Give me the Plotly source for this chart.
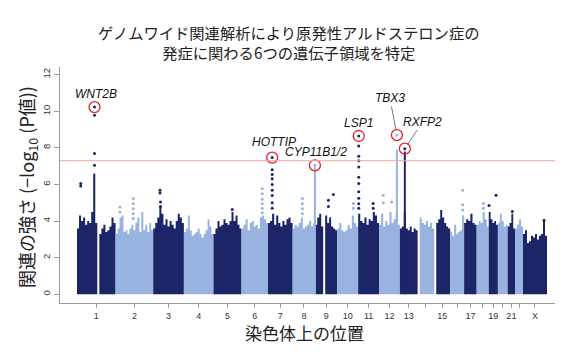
import plotly.graph_objects as go

# ---------------- data ----------------
chrom_names = ["1", "2", "3", "4", "5", "6", "7", "8", "9", "10", "11", "12",
               "13", "14", "15", "16", "17", "18", "19", "20", "21", "22", "X"]
chrom_len = [249, 243, 198, 191, 181, 171, 159, 146, 141, 136, 135, 134,
             115, 107, 103, 90, 81, 78, 59, 63, 48, 51, 155]
labelled_chroms = ["1", "2", "3", "4", "5", "6", "7", "8", "9", "10", "11", "12",
                   "13", "15", "17", "19", "21", "X"]

# upper envelope of the dense SNP cloud (-log10 P), evenly spaced along each chromosome
envelope = [
    [3.6, 4.3, 4.0, 4.2, 3.8, 4.0, 3.9, 4.5, 6.6, 3.9, 0, 3.3, 3.6, 3.8, 3.4, 3.5, 3.7, 4.2, 3.9],
    [3.3, 3.6, 4.2, 4.3, 3.4, 3.5, 3.3, 3.6, 3.8, 3.5, 3.9, 4.2, 3.4, 4.5, 3.5, 3.8, 3.4, 3.9, 3.5],
    [3.6, 3.9, 4.2, 4.8, 4.4, 3.8, 4.1, 3.7, 4.0, 3.8, 3.6, 4.0, 4.4, 4.2, 3.9],
    [3.4, 3.6, 4.3, 3.5, 3.2, 3.3, 3.4, 3.6, 3.3, 3.1, 3.3, 3.5, 4.1, 3.7, 3.3],
    [3.3, 3.6, 4.0, 3.7, 3.8, 4.1, 3.9, 3.8, 4.0, 4.5, 4.0, 4.3, 3.8, 3.6],
    [3.6, 3.8, 4.1, 3.5, 3.9, 4.0, 3.7, 3.8, 3.6, 4.2, 4.3, 4.1, 3.9],
    [3.9, 4.0, 4.4, 3.8, 4.3, 3.9, 3.7, 4.0, 3.8, 4.1, 4.2, 3.9],
    [3.6, 3.8, 3.7, 3.9, 4.2, 3.6, 3.7, 3.8, 4.0, 3.7, 3.9],
    [3.8, 4.2, 4.4, 3.7, 0, 4.3, 3.9, 4.2, 3.7, 3.6, 3.5],
    [3.6, 3.9, 3.5, 3.4, 3.5, 3.8, 3.6, 4.3, 3.9, 3.7],
    [4.4, 4.0, 3.9, 4.2, 3.8, 4.1, 4.0, 4.5, 4.3, 3.9],
    [3.8, 4.4, 3.7, 4.0, 3.8, 4.5, 3.9, 4.1, 4.4, 3.8],
    [3.6, 3.7, 4.5, 3.6, 3.5, 3.7, 3.4, 3.6, 3.5],
    [0, 4.2, 3.9, 3.8, 4.0, 3.7, 3.9, 3.6],
    [0, 3.9, 4.1, 4.6, 4.2, 3.9, 3.7, 3.6],
    [3.4, 3.2, 3.8, 3.3, 3.4, 3.5, 4.3],
    [3.9, 4.1, 4.0, 4.4, 3.9, 3.8],
    [3.8, 4.0, 3.9, 4.5, 4.1, 3.7],
    [4.5, 4.1, 3.9, 4.0, 3.8],
    [3.9, 4.4, 4.0, 3.7, 3.8],
    [3.7, 3.9, 4.4, 3.6],
    [3.6, 3.8, 4.1, 3.7],
    [3.3, 3.5, 2.8, 2.9, 3.2, 3.1, 3.3, 3.0, 3.2, 3.3, 4.0, 3.2],
]

# sparse SNPs above the dense cloud: chromosome index (1-based), position (Mb), -log10 P
pt_chr = [1, 1, 1, 1, 1,
          2, 2, 2, 2, 2, 2, 2,
          3, 3, 3, 3,
          5,
          6, 6, 6, 6, 6, 6,
          7, 7, 7, 7, 7, 7, 7, 7,
          8, 8, 8, 8,
          9, 9, 9,
          10, 10,
          11, 11, 11, 11, 11, 11, 11, 11, 11, 11, 11, 11,
          12, 12, 12,
          16, 16, 16,
          18, 18,
          19, 19,
          21,
          23]
pt_pos = [113, 113, 113, 24, 24,
          114, 114, 114, 114, 114, 28, 28,
          44, 44, 47, 47,
          121,
          134, 134, 134, 134, 134, 134,
          27, 27, 27, 27, 27, 27, 27, 27,
          63, 63, 63, 63,
          85, 85, 117,
          105, 105,
          4, 4, 4, 4, 4, 4, 4, 4, 4, 4, 97, 97,
          27, 27, 81,
          81, 81, 81,
          43, 43,
          2, 47,
          30,
          136]
pt_val = [9.78, 7.69, 7.05, 6.05, 5.92,
          5.23, 4.95, 4.68, 4.4, 4.14, 4.77, 4.5,
          5.68, 5.54, 5.05, 4.8,
          4.63,
          5.77, 5.5, 5.2, 4.95, 4.7, 4.45,
          6.8, 6.54, 6.32, 6.0, 5.68, 5.4, 5.0, 4.7,
          5.23, 4.95, 4.68, 4.4,
          5.14, 4.8, 5.45,
          4.96, 4.7,
          8.1, 7.55, 7.3, 6.95, 6.4, 6.05, 5.6, 5.25, 4.95, 4.7, 4.96, 4.7,
          5.41, 5.0, 5.05,
          5.68, 4.9, 4.6,
          4.96, 4.7,
          4.85, 5.41,
          4.53,
          4.04]

# dense continuous columns of SNPs under some peaks
col_chr = [8, 12, 13]
col_pos = [143.9, 115, 32.3]
col_top = [6.95, 7.9, 7.8]

# lead SNPs of the six loci
hit_gene = ["WNT2B", "HOTTIP", "CYP11B1/2", "LSP1", "TBX3", "RXFP2"]
hit_chr = [1, 7, 8, 11, 12, 13]
hit_pos = [113, 27, 143.9, 4, 115, 32.3]
hit_val = [10.23, 7.47, 7.05, 8.65, 8.7, 7.96]

threshold = 7.3

# ---------------- styling ----------------
DARK = "#1c2567"
LIGHT = "#98b3df"
starts = []
acc = 0
for L in chrom_len:
    starts.append(acc)
    acc += L
total = acc
mids = [s + L / 2 for s, L in zip(starts, chrom_len)]
major_vals = [m for m, n in zip(mids, chrom_names) if n in labelled_chroms]
major_text = [n for n in chrom_names if n in labelled_chroms]
minor_vals = [m for m, n in zip(mids, chrom_names) if n not in labelled_chroms]


def ccol(i):
    return DARK if i % 2 == 0 else LIGHT


fig = go.Figure()

for i, (s, L, env) in enumerate(zip(starts, chrom_len, envelope)):
    n = len(env)
    xs = [s + k * L / n for k in range(n + 1)]
    ys = list(env) + [env[-1]]
    fig.add_trace(go.Scatter(x=xs, y=ys, mode="lines",
                             line=dict(width=0, shape="hv", color=ccol(i)),
                             fill="tozeroy", fillcolor=ccol(i),
                             hoverinfo="skip", showlegend=False))

for c, p, t in zip(col_chr, col_pos, col_top):
    x = starts[c - 1] + p
    fig.add_trace(go.Scatter(x=[x, x], y=[0, t], mode="lines",
                             line=dict(width=2, color=ccol(c - 1)),
                             hoverinfo="skip", showlegend=False))

fig.add_trace(go.Scatter(
    x=[starts[c - 1] + p for c, p in zip(pt_chr, pt_pos)], y=pt_val,
    mode="markers",
    marker=dict(size=3, color=[ccol(c - 1) for c in pt_chr]),
    hoverinfo="skip", showlegend=False))

hx = [starts[c - 1] + p for c, p in zip(hit_chr, hit_pos)]
fig.add_trace(go.Scatter(x=hx, y=hit_val, mode="markers",
                         marker=dict(size=3, color=[ccol(c - 1) for c in hit_chr]),
                         hoverinfo="skip", showlegend=False))
fig.add_trace(go.Scatter(x=hx, y=hit_val, mode="markers",
                         marker=dict(size=11, color="rgba(0,0,0,0)",
                                     line=dict(color="#e4222b", width=1.3)),
                         hoverinfo="skip", showlegend=False))

fig.add_shape(type="line", xref="paper", x0=0, x1=1, yref="y",
              y0=threshold, y1=threshold, line=dict(color="#f5a5a5", width=1))

# gene labels: (xshift, yshift) for plain labels, (ax, ay) for leader lines
label_font = dict(family="Liberation Sans, Arial, sans-serif", size=12, color="#111")
label_shift = {"WNT2B": (1.5, 13), "HOTTIP": (2, 16), "CYP11B1/2": (1, 13), "LSP1": (0, 13)}
label_arrow = {"TBX3": (-7, -37), "RXFP2": (18, -27)}
for g, x, v in zip(hit_gene, hx, hit_val):
    txt = "<i>%s</i>" % g
    if g in label_shift:
        xs_, ys_ = label_shift[g]
        fig.add_annotation(x=x, y=v, text=txt, showarrow=False, xshift=xs_, yshift=ys_,
                           font=label_font)
    else:
        ax, ay = label_arrow[g]
        fig.add_annotation(x=x, y=v, text=txt, showarrow=True, ax=ax, ay=ay,
                           arrowhead=0, arrowwidth=0.8, arrowcolor="#555",
                           standoff=5, font=label_font)

# titles
fig.add_annotation(xref="paper", yref="paper", x=0.4626, y=1.106,
                   text="ゲノムワイド関連解析により原発性アルドステロン症の<br>発症に関わる6つの遺伝子領域を特定",
                   showarrow=False, xanchor="center", yanchor="middle",
                   font=dict(family="Noto Sans CJK JP", size=15.3, color="#222"))
fig.add_annotation(xref="paper", yref="paper", x=-0.0667, y=0.4915,
                   text="関連の強さ (−log<sub>10</sub> (P値))", textangle=-90,
                   showarrow=False, xanchor="center", yanchor="middle",
                   font=dict(family="Noto Sans CJK JP", size=18, color="#222"))
fig.add_annotation(xref="paper", yref="paper", x=0.4943, y=-0.127,
                   text="染色体上の位置", showarrow=False,
                   xanchor="center", yanchor="middle",
                   font=dict(family="Noto Sans CJK JP", size=17, color="#222"))

x_lo = -17 * total / 470
x_hi = total + 8 * total / 470
fig.update_layout(
    width=564, height=352, autosize=False,
    margin=dict(l=60, r=9, t=67, b=49),
    paper_bgcolor="white", plot_bgcolor="white",
    showlegend=False,
    xaxis=dict(range=[x_lo, x_hi], tickmode="array", tickvals=major_vals, ticktext=major_text,
               showline=True, linecolor="#9a9a9a", linewidth=1,
               ticks="outside", ticklen=4, tickcolor="#9a9a9a",
               minor=dict(tickmode="array", tickvals=minor_vals, ticks="outside",
                          ticklen=4, tickcolor="#9a9a9a", showgrid=False),
               tickfont=dict(family="Liberation Sans, Arial", size=9, color="#333"),
               showgrid=False, zeroline=False, fixedrange=True),
    yaxis=dict(range=[-0.475, 12.42], tickvals=[0, 2, 4, 6, 8, 10, 12],
               tickangle=-90, showline=True, linecolor="#9a9a9a", linewidth=1,
               ticks="outside", ticklen=5, tickcolor="#9a9a9a",
               tickfont=dict(family="Liberation Sans, Arial", size=9.5, color="#333"),
               showgrid=False, zeroline=False, fixedrange=True),
)

fig.write_html("out.html")
